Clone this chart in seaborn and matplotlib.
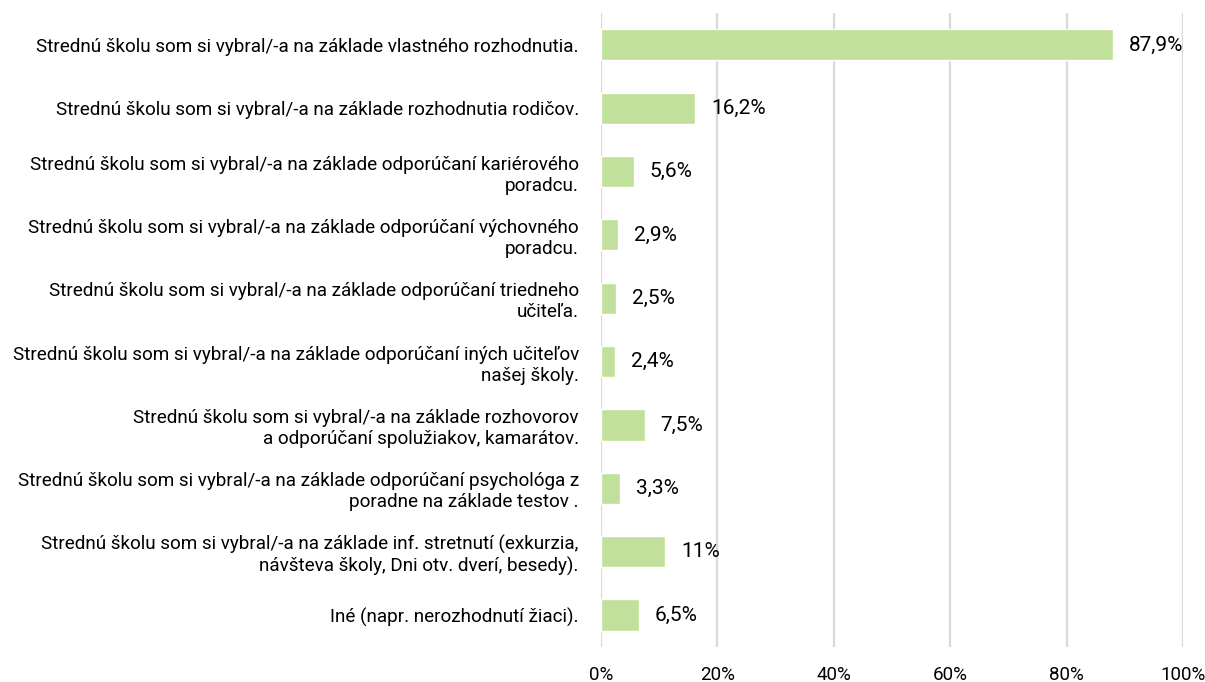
import matplotlib
matplotlib.use("Agg")
import matplotlib.pyplot as plt
import seaborn as sns
import pandas as pd
from matplotlib.ticker import FuncFormatter

categories = [
    "Strednú školu som si vybral/-a na základe vlastného rozhodnutia.",
    "Strednú školu som si vybral/-a na základe rozhodnutia rodičov.",
    "Strednú školu som si vybral/-a na základe odporúčaní kariérového\nporadcu.",
    "Strednú školu som si vybral/-a na základe odporúčaní výchovného\nporadcu.",
    "Strednú školu som si vybral/-a na základe odporúčaní triedneho\nučiteľa.",
    "Strednú školu som si vybral/-a na základe odporúčaní iných učiteľov\nnašej školy.",
    "Strednú školu som si vybral/-a na základe rozhovorov\na odporúčaní spolužiakov, kamarátov.",
    "Strednú školu som si vybral/-a na základe odporúčaní psychológa z\nporadne na základe testov .",
    "Strednú školu som si vybral/-a na základe inf. stretnutí (exkurzia,\nnávšteva školy, Dni otv. dverí, besedy).",
    "Iné (napr. nerozhodnutí žiaci).",
]
values = [87.9, 16.2, 5.6, 2.9, 2.5, 2.4, 7.5, 3.3, 11, 6.5]
value_labels = ["87,9%", "16,2%", "5,6%", "2,9%", "2,5%", "2,4%", "7,5%", "3,3%", "11%", "6,5%"]
x_ticks = [0, 20, 40, 60, 80, 100]

sns.set_theme(style="white")
plt.rcParams['font.family'] = ['Roboto', 'DejaVu Sans']

df = pd.DataFrame({"cat": categories, "val": values})

fig = plt.figure(figsize=(12.05, 6.82), dpi=100)
ax = fig.add_axes([0.4988, 0.0518, 0.9817 - 0.4988, 0.9805 - 0.0518])

sns.barplot(data=df, x="val", y="cat", color="#C1E09B", saturation=1, width=0.49, ax=ax, orient="h")

ax.set_xlim(0, 100)
ax.set_xticks(x_ticks)
ax.xaxis.set_major_formatter(FuncFormatter(lambda v, p: f"{int(v)}%"))
ax.grid(axis="x", color="#D9D9D9", linewidth=1.6)
ax.set_axisbelow(True)
for s in ax.spines.values():
    s.set_visible(False)
ax.set_xlabel("")
ax.set_ylabel("")
ax.tick_params(axis="y", length=0, pad=16, labelsize=13.6, colors="#000000")
ax.tick_params(axis="x", length=0, pad=14, labelsize=13.5, colors="#000000")
for t in ax.get_yticklabels():
    t.set_horizontalalignment("right")
    t.set_multialignment("right")
    t.set_linespacing(1.22)

for i, (v, lab) in enumerate(zip(values, value_labels)):
    ax.annotate(lab, xy=(v, i), xytext=(16, 0), textcoords="offset pixels",
                va="center", ha="left", fontsize=15, color="#000000")

fig.savefig("out.png", dpi=100)
